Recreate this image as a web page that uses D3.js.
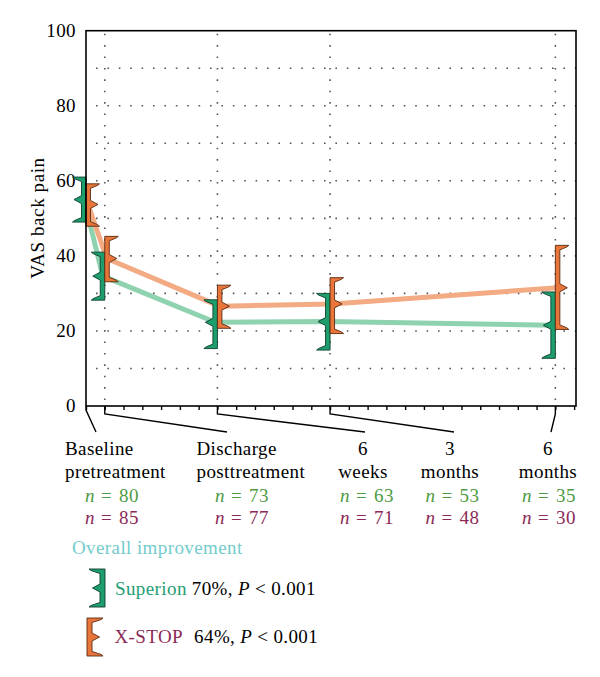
<!DOCTYPE html>
<html>
<head>
<meta charset="utf-8">
<script src="https://cdn.jsdelivr.net/npm/d3@7"></script>
<style>
  body { margin: 0; background: #fff; }
  svg text { font-family: "Liberation Serif", "Times New Roman", serif; }
</style>
</head>
<body>
<svg id="chart" width="600" height="677"></svg>
<script>
// time points (position on the x axis, in the chart's own units)
const timePos = [0, 1, 7, 13, 25]
const timeLabels = [["Baseline", "pretreatment"], ["Discharge", "posttreatment"], ["6", "weeks"], ["3", "months"], ["6", "months"]]

// Superion: mean with lower / upper bar ends
const superionMean = [55.0, 34.6, 22.3, 22.5, 21.5]
const superionLow = [49.0, 28.2, 15.3, 14.9, 12.7]
const superionHigh = [61.0, 41.0, 28.3, 30.0, 30.4]
const superionN = [80, 73, 63, 53, 35]

// X-STOP
const xstopMean = [53.7, 39.3, 26.6, 27.2, 31.5]
const xstopLow = [47.9, 33.1, 20.7, 19.3, 20.4]
const xstopHigh = [59.2, 45.2, 32.2, 34.2, 42.8]
const xstopN = [85, 77, 71, 48, 30]

const yTicks = [0, 20, 40, 60, 80, 100]
const yGrid = [10, 20, 30, 40, 50, 60, 70, 80, 90]

// layout for the category labels under the axis
const leaderEnd = [96, 227, 365, 454, 551]
const labelLayout = [
  {x: 65, nx: 85, anchor: "start"},
  {x: 196.5, nx: 215, anchor: "start"},
  {x: 363, nx: 367, anchor: "middle"},
  {x: 450, nx: 452.5, anchor: "middle"},
  {x: 548, nx: 549, anchor: "middle"}
]

const green = "#1d9e6c", greenDark = "#0f3d2b", greenLine = "#8fd2b0"
const orange = "#e8763a", orangeDark = "#5a2a12", orangeLine = "#f3ab84"
const fontSize = 19
const spacing = 0.4

const svg = d3.select("#chart")

let x = d3.scaleLinear().domain([0, 26.1]).range([86, 576])
let y = d3.scaleLinear().domain([0, 100]).range([406, 30.7])

// dotted grid
svg.append("g")
  .selectAll("line")
  .data(yGrid)
  .join("line")
    .attr("x1", x(0) + 10).attr("x2", x(26.1))
    .attr("y1", d => y(d)).attr("y2", d => y(d))
    .attr("stroke", "#555").attr("stroke-width", 1.6)
    .attr("stroke-dasharray", "1.6 9.8")

svg.append("g")
  .selectAll("line")
  .data(timePos.slice(1))
  .join("line")
    .attr("x1", d => x(d)).attr("x2", d => x(d))
    .attr("y1", y(100) + 3).attr("y2", y(0))
    .attr("stroke", "#555").attr("stroke-width", 1.6)
    .attr("stroke-dasharray", "1.6 9.8")

// x axis ticks (one per unit)
let xAxis = d3.axisBottom(x)
    .tickValues(d3.range(0, 27))
    .tickSize(4)
    .tickFormat("")
svg.append("g")
    .attr("transform", `translate(0,${y(0)})`)
    .call(xAxis)
    .call(g => g.select(".domain").remove())
    .call(g => g.selectAll(".tick line").attr("stroke", "#000").attr("stroke-width", 1.4))

// y axis labels
svg.append("g")
  .selectAll("text")
  .data(yTicks)
  .join("text")
    .attr("x", 76)
    .attr("y", d => y(d))
    .attr("dy", "0.33em")
    .attr("text-anchor", "end")
    .attr("font-size", fontSize)
    .attr("letter-spacing", spacing)
    .text(d => d)

svg.append("text")
    .attr("transform", "translate(44,218) rotate(-90)")
    .attr("text-anchor", "middle")
    .attr("font-size", fontSize)
    .attr("letter-spacing", 0.6)
    .text("VAS back pain")

// mean lines
function drawLine(means, shift, color) {
  let line = d3.line()
      .x((d, i) => x(timePos[i]) + shift)
      .y(d => y(d))
  svg.append("path")
      .datum(means)
      .attr("d", line)
      .attr("fill", "none")
      .attr("stroke", color)
      .attr("stroke-width", 5)
      .attr("stroke-linejoin", "round")
}
drawLine(superionMean, -2, greenLine)
drawLine(xstopMean, 2, orangeLine)

// bracket shaped bars; dir = -1 opens to the left, +1 to the right
function bracket(x0, yT, yM, yB, dir, w = 4.5, s = 9) {
  const p = (dx, yy) => [x0 + dir * dx, yy]
  const pts = [
    p(0, yT), p(w + s, yT), p(w + s - 2, yT + 1.6), p(w, yT + 4.5),
    p(w, yM - 4), p(w + 7.5, yM), p(w, yM + 4),
    p(w, yB - 4.5), p(w + s - 2, yB - 1.6), p(w + s, yB), p(0, yB)
  ]
  return "M" + pts.map(q => q.join(",")).join("L") + "Z"
}

svg.append("g")
  .selectAll("path")
  .data(superionMean)
  .join("path")
    .attr("d", (d, i) => bracket(x(timePos[i]), y(superionHigh[i]), y(d), y(superionLow[i]), -1))
    .attr("fill", green)
    .attr("stroke", greenDark)
    .attr("stroke-width", 0.9)

svg.append("g")
  .selectAll("path")
  .data(xstopMean)
  .join("path")
    .attr("d", (d, i) => bracket(x(timePos[i]), y(xstopHigh[i]), y(d), y(xstopLow[i]), 1))
    .attr("fill", orange)
    .attr("stroke", orangeDark)
    .attr("stroke-width", 0.9)

// frame
svg.append("rect")
    .attr("x", x(0)).attr("y", y(100))
    .attr("width", x(26.1) - x(0)).attr("height", y(0) - y(100))
    .attr("fill", "none")
    .attr("stroke", "#000")
    .attr("stroke-width", 1.6)

// leader lines from the axis to the labels
svg.append("g")
  .selectAll("path")
  .data(timePos)
  .join("path")
    .attr("d", (d, i) => `M${x(d)},${y(0)}L${x(d)},${y(0) + (i === 0 ? 4 : 8)}L${leaderEnd[i]},432`)
    .attr("fill", "none")
    .attr("stroke", "#000")
    .attr("stroke-width", 1.4)

// category labels and n counts
const labels = svg.append("g").attr("font-size", fontSize).attr("letter-spacing", spacing)
timeLabels.forEach((lines, i) => {
  const L = labelLayout[i]
  lines.forEach((t, k) => {
    labels.append("text")
        .attr("x", L.x).attr("y", 455 + k * 22.5)
        .attr("text-anchor", L.anchor)
        .text(t)
  })
  const nAnchor = L.anchor === "start" ? "start" : "middle"
  const rows = [[superionN[i], "#4f9b44"], [xstopN[i], "#8b2a56"]]
  rows.forEach(([n, col], k) => {
    const t = labels.append("text")
        .attr("x", L.nx).attr("y", 501.5 + k * 22.5)
        .attr("text-anchor", nAnchor)
        .attr("fill", col)
    t.append("tspan").attr("font-style", "italic").text("n")
    t.append("tspan").attr("dx", 6).text("=")
    t.append("tspan").attr("dx", 7).text(n)
  })
})

// legend
const legend = svg.append("g").attr("font-size", fontSize).attr("letter-spacing", spacing)
legend.append("text")
    .attr("x", 72).attr("y", 554)
    .attr("fill", "#72cccc")
    .text("Overall improvement")

legend.append("path")
    .attr("d", bracket(105, 569, 588, 607, -1, 5, 11))
    .attr("fill", green).attr("stroke", greenDark).attr("stroke-width", 0.9)
legend.append("path")
    .attr("d", bracket(87, 618, 637, 656, 1, 5, 11))
    .attr("fill", orange).attr("stroke", orangeDark).attr("stroke-width", 0.9)

const l1 = legend.append("text").attr("x", 115).attr("y", 595)
l1.append("tspan").attr("fill", "#1f9e74").text("Superion")
l1.append("tspan").attr("fill", "#000").attr("dx", 5).text("70%,")
l1.append("tspan").attr("dx", 5).attr("font-style", "italic").text("P")
l1.append("tspan").attr("dx", 5).text("<")
l1.append("tspan").attr("dx", 5).text("0.001")

const l2 = legend.append("text").attr("x", 114.5).attr("y", 643)
l2.append("tspan").attr("fill", "#8b2a56").text("X-STOP")
l2.append("tspan").attr("fill", "#000").attr("dx", 11).text("64%,")
l2.append("tspan").attr("dx", 5).attr("font-style", "italic").text("P")
l2.append("tspan").attr("dx", 5).text("<")
l2.append("tspan").attr("dx", 5).text("0.001")
</script>
</body>
</html>
